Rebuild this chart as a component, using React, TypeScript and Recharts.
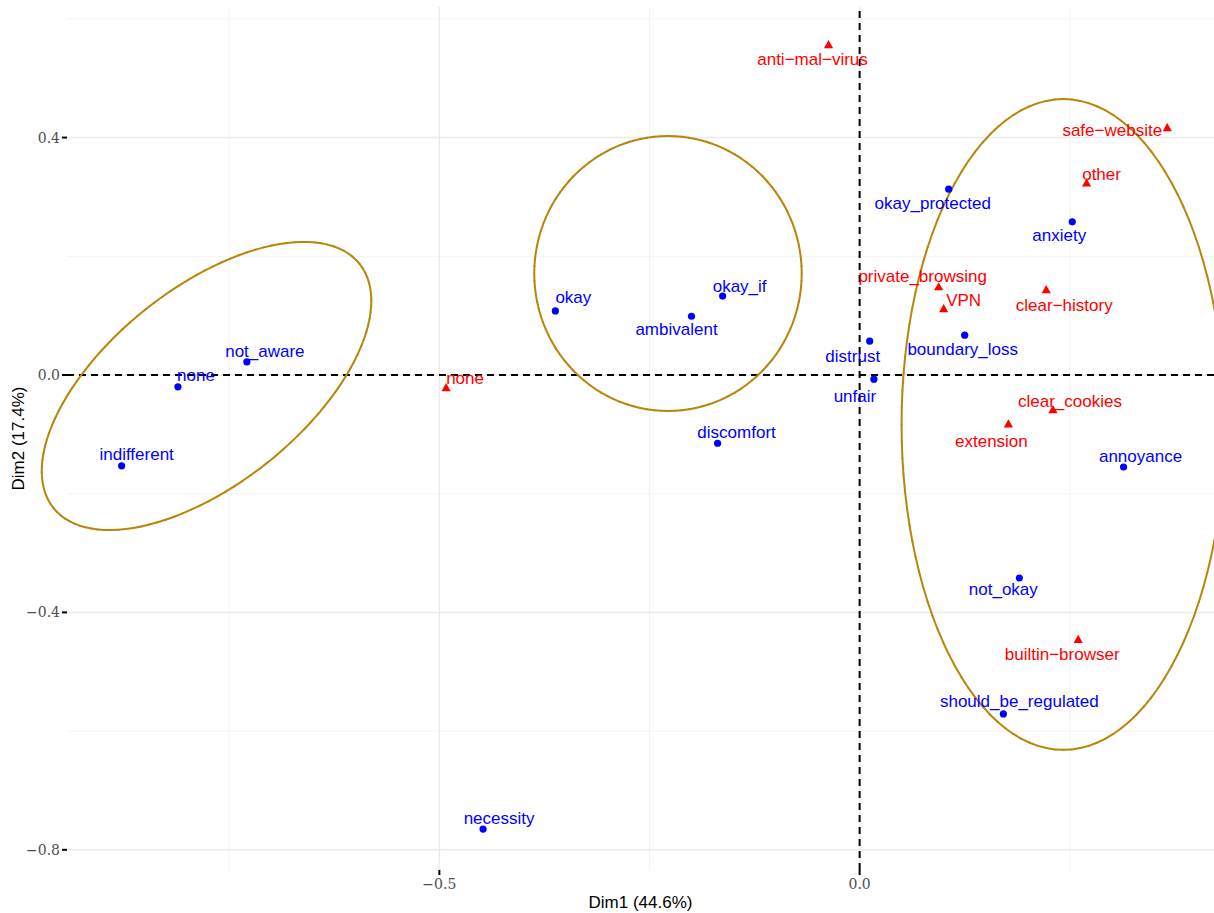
import {
  ScatterChart,
  Scatter,
  XAxis,
  YAxis,
  ReferenceLine,
} from "recharts";

// active categories (blue dots)
const ACTIVE_NAMES = [
  "none", "not_aware", "indifferent", "okay", "okay_if", "ambivalent",
  "discomfort", "necessity", "okay_protected", "anxiety", "distrust",
  "boundary_loss", "unfair", "annoyance", "not_okay", "should_be_regulated",
];
const ACTIVE_X = [
  -0.811, -0.729, -0.878, -0.362, -0.163, -0.2,
  -0.169, -0.448, 0.106, 0.253, 0.012,
  0.125, 0.017, 0.314, 0.19, 0.171,
];
const ACTIVE_Y = [
  -0.02, 0.022, -0.153, 0.108, 0.133, 0.099,
  -0.115, -0.765, 0.313, 0.258, 0.057,
  0.067, -0.007, -0.155, -0.342, -0.571,
];

// supplementary categories (red triangles)
const SUPP_NAMES = [
  "none", "anti\u2212mal\u2212virus", "safe\u2212website", "other",
  "private_browsing", "VPN", "clear\u2212history", "clear_cookies",
  "extension", "builtin\u2212browser",
];
const SUPP_X = [-0.492, -0.037, 0.366, 0.27, 0.094, 0.1, 0.222, 0.23, 0.177, 0.26];
const SUPP_Y = [-0.022, 0.556, 0.416, 0.323, 0.148, 0.111, 0.143, -0.059, -0.083, -0.446];

// cluster ellipses: centre and half-axis vectors (data units)
const ELLIPSE_CX = [-0.777, -0.228, 0.2423];
const ELLIPSE_CY = [-0.0185, 0.171, -0.0834];
const ELLIPSE_U = [[0.1822, 0.2055], [0.1591, 0], [0.1924, 0]];
const ELLIPSE_V = [[-0.0724, 0.1292], [0, 0.2316], [0, 0.5482]];

const X_TICKS = [-0.5, 0];
const Y_TICKS = [0.4, 0, -0.4, -0.8];
const X_MINOR = [-0.75, -0.25, 0.25];
const Y_MINOR = [0.6, 0.2, -0.2, -0.6];

// label offsets in px (dx, dy of text centre from point)
const ACTIVE_NUDGE: Record<string, [number, number]> = {
  none: [18, -11],
  not_aware: [18, -10],
  indifferent: [15, -11],
  okay: [18, -13],
  okay_if: [17, -10],
  ambivalent: [-15, 13],
  discomfort: [19, -11],
  necessity: [16, -11],
  okay_protected: [-16, 14],
  anxiety: [-13, 14],
  distrust: [-17, 15],
  boundary_loss: [-2, 14],
  unfair: [-19, 17],
  annoyance: [17, -10],
  not_okay: [-16, 12],
  should_be_regulated: [16, -12],
};
const SUPP_NUDGE: Record<string, [number, number]> = {
  none: [19, -10],
  "anti\u2212mal\u2212virus": [-16, 15],
  "safe\u2212website": [-55, 2],
  other: [15, -9],
  private_browsing: [-16, -11],
  VPN: [20, -9],
  "clear\u2212history": [18, 15],
  clear_cookies: [17, -9],
  extension: [-17, 17],
  "builtin\u2212browser": [-16, 15],
};

const activeData = ACTIVE_NAMES.map((name, i) => ({ name, x: ACTIVE_X[i], y: ACTIVE_Y[i] }));
const suppData = SUPP_NAMES.map((name, i) => ({ name, x: SUPP_X[i], y: SUPP_Y[i] }));

// outline of each ellipse as short segments
const ellipseSegments = ELLIPSE_CX.map((cx, k) => {
  const pts: { x: number; y: number }[] = [];
  const n = 120;
  for (let j = 0; j <= n; j++) {
    const t = (2 * Math.PI * j) / n;
    pts.push({
      x: cx + ELLIPSE_U[k][0] * Math.cos(t) + ELLIPSE_V[k][0] * Math.sin(t),
      y: ELLIPSE_CY[k] + ELLIPSE_U[k][1] * Math.cos(t) + ELLIPSE_V[k][1] * Math.sin(t),
    });
  }
  return pts.slice(1).map((p, j) => [pts[j], p]);
});

const LABEL_FONT = "'Liberation Sans', Arial, sans-serif";
const TICK_FONT = "'DejaVu Serif', serif";

const fmt = (v: number) => v.toFixed(1).replace("-", "\u2212");

function XTick(props: any) {
  const { x, y, payload } = props;
  return (
    <text x={x} y={y + 12} textAnchor="middle" fill="#4D4D4D" style={{ fontSize: "14px" }} fontFamily={TICK_FONT}>
      {fmt(payload.value)}
    </text>
  );
}

function YTick(props: any) {
  const { x, y, payload } = props;
  return (
    <text x={x} y={y + 5} textAnchor="end" fill="#4D4D4D" style={{ fontSize: "14px" }} fontFamily={TICK_FONT}>
      {fmt(payload.value)}
    </text>
  );
}

function ActivePoint(props: any) {
  const { cx, cy, payload } = props;
  const [dx, dy] = ACTIVE_NUDGE[payload.name] || [0, -12];
  return (
    <g>
      <circle cx={cx} cy={cy} r={3.6} fill="#0000FF" />
      <text
        x={cx + dx}
        y={cy + dy}
        textAnchor="middle"
        dominantBaseline="central"
        fill="#0000FF"
        fontSize={17}
        fontFamily={LABEL_FONT}
      >
        {payload.name}
      </text>
    </g>
  );
}

function SuppPoint(props: any) {
  const { cx, cy, payload } = props;
  const [dx, dy] = SUPP_NUDGE[payload.name] || [0, -12];
  return (
    <g>
      <polygon
        points={`${cx},${cy - 5} ${cx - 4.6},${cy + 3.2} ${cx + 4.6},${cy + 3.2}`}
        fill="#FF0000"
      />
      <text
        x={cx + dx}
        y={cy + dy}
        textAnchor="middle"
        dominantBaseline="central"
        fill="#FF0000"
        fontSize={17}
        fontFamily={LABEL_FONT}
      >
        {payload.name}
      </text>
    </g>
  );
}

export default function App() {
  return (
    <div style={{ position: "absolute", left: 0, top: 0, background: "#fff" }}>
      <ScatterChart
        width={1214}
        height={913}
        margin={{ top: 7, right: 0, bottom: 0, left: 0 }}
      >
        <XAxis
          type="number"
          dataKey="x"
          domain={[-0.943, 0.4216]}
          allowDataOverflow
          ticks={X_TICKS}
          axisLine={false}
          tickLine={{ stroke: "#000", strokeWidth: 2 }}
          tickSize={5}
          tickMargin={2}
          height={43}
          tick={<XTick />}
          label={{
            value: "Dim1 (44.6%)",
            position: "insideBottom",
            offset: 5,
            fill: "#000",
            fontSize: 17,
            fontFamily: LABEL_FONT,
          }}
        />
        <YAxis
          type="number"
          dataKey="y"
          domain={[-0.834, 0.62]}
          allowDataOverflow
          ticks={Y_TICKS}
          axisLine={false}
          tickLine={{ stroke: "#000", strokeWidth: 2 }}
          tickSize={5}
          tickMargin={2}
          width={67}
          tick={<YTick />}
          label={{
            content: (p: any) => {
              const vb = p.viewBox || { x: 0, y: 7, width: 67, height: 863 };
              const cy = vb.y + vb.height / 2;
              return (
                <text
                  x={18}
                  y={cy}
                  transform={`rotate(-90, 18, ${cy})`}
                  textAnchor="middle"
                  dominantBaseline="central"
                  fill="#000"
                  fontSize={17}
                  fontFamily={LABEL_FONT}
                >
                  Dim2 (17.4%)
                </text>
              );
            },
          }}
        />

        {X_MINOR.map((v) => (
          <ReferenceLine key={"xm" + v} x={v} stroke="#F3F3F3" strokeWidth={1} />
        ))}
        {Y_MINOR.map((v) => (
          <ReferenceLine key={"ym" + v} y={v} stroke="#F3F3F3" strokeWidth={1} />
        ))}
        {X_TICKS.map((v) => (
          <ReferenceLine key={"xg" + v} x={v} stroke="#EBEBEB" strokeWidth={1.5} />
        ))}
        {Y_TICKS.map((v) => (
          <ReferenceLine key={"yg" + v} y={v} stroke="#EBEBEB" strokeWidth={1.5} />
        ))}
        <ReferenceLine x={0} stroke="#000" strokeWidth={2} strokeDasharray="7 5" />
        <ReferenceLine y={0} stroke="#000" strokeWidth={2} strokeDasharray="7 5" />

        {ellipseSegments.map((segs, k) =>
          segs.map((seg, j) => (
            <ReferenceLine
              key={"e" + k + "-" + j}
              segment={seg}
              ifOverflow="visible"
              stroke="#B8860B"
              strokeWidth={2}
              strokeLinecap="round"
            />
          ))
        )}

        <Scatter data={activeData} shape={ActivePoint} isAnimationActive={false} />
        <Scatter data={suppData} shape={SuppPoint} isAnimationActive={false} />
      </ScatterChart>
    </div>
  );
}
